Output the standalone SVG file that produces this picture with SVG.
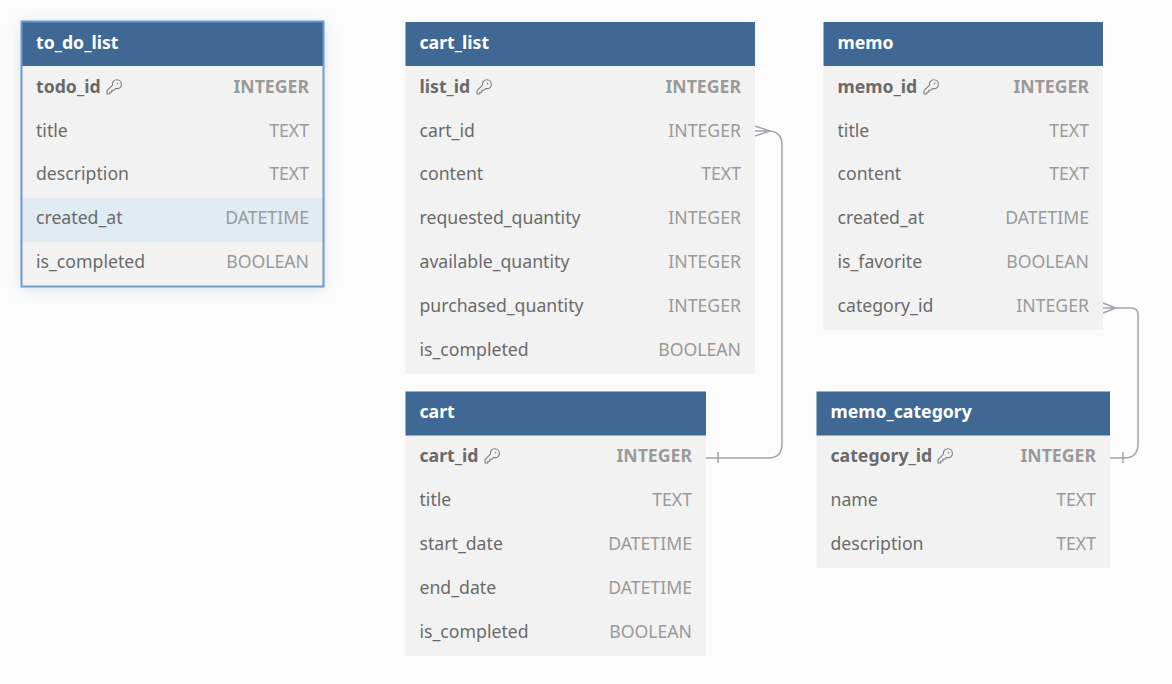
<svg xmlns="http://www.w3.org/2000/svg" width="1172" height="684" viewBox="0 0 1172 684">
<style>
text{font-family:"Noto Sans","Open Sans",sans-serif;font-size:17.66px}
.h{fill:#3f6894}
.b{fill:#f2f2f2}
.t{fill:#fff;font-weight:700}
.n{fill:#6a6a6a}
.k{fill:#6a6a6a;font-weight:700}
.y{fill:#9a9a9a;text-anchor:end}
.yk{fill:#9a9a9a;text-anchor:end;font-weight:700}
.c{fill:none;stroke:#a3a3ad;stroke-width:1.5}
.i{fill:none;stroke:#7d7d7d;stroke-width:1.1;stroke-linejoin:round}
</style>
<defs>
<filter id="s" x="-20%" y="-20%" width="140%" height="140%"><feDropShadow dx="0" dy="2" stdDeviation="7" flood-color="#6f95cc" flood-opacity="0.3"/></filter>
<g id="key"><path class="i" d="M1 15V11.6L6.6 6.2C5.8 3.2 8 .8 10.8 .8C13.6 .8 15.4 3 15.4 5.4C15.4 8.2 12.8 10.4 9.8 9.4L8 11.2H5.8V13.2H3.8V15Z"/><circle cx="11.6" cy="4.6" r="0.8" fill="#7d7d7d"/></g>
</defs>
<rect width="1172" height="684" fill="#fcfcfc"/>
<g id="connectors">
<path class="c" d="M755 131H768Q782 131 782 145V444Q782 458 768 458H706M755 126L770 131L755 136M718 452V463"/>
<path class="c" d="M1103 308H1131Q1138 308 1138 315V444Q1138 458 1124 458H1110M1103 303L1116 308L1103 313M1123 452V463"/>
</g>
<g id="to_do_list">
<rect x="21.5" y="21.5" width="302" height="265" class="b" filter="url(#s)"/>
<rect x="22" y="198" width="301" height="44" fill="#e1ebf2"/>
<rect x="22" y="22" width="301" height="44" class="h"/>
<rect x="21.5" y="21.5" width="302" height="265" fill="none" stroke="#6c9acb" stroke-width="2"/>
<text x="36" y="49" class="t">to_do_list</text>
<text x="36" y="93" class="k">todo_id</text><use href="#key" x="106" y="79"/><text x="309" y="93" class="yk">INTEGER</text>
<text x="36" y="137" class="n">title</text><text x="309" y="137" class="y">TEXT</text>
<text x="36" y="180" class="n">description</text><text x="309" y="180" class="y">TEXT</text>
<text x="36" y="224" class="n">created_at</text><text x="309" y="224" class="y">DATETIME</text>
<text x="36" y="268" class="n">is_completed</text><text x="309" y="268" class="y">BOOLEAN</text>
</g>
<g id="cart_list">
<rect x="405.5" y="22" width="349.5" height="352" class="b"/>
<rect x="405.5" y="22" width="349.5" height="44" class="h"/>
<text x="419.5" y="49" class="t">cart_list</text>
<text x="419.5" y="93" class="k">list_id</text><use href="#key" x="476" y="79"/><text x="741" y="93" class="yk">INTEGER</text>
<text x="419.5" y="137" class="n">cart_id</text><text x="741" y="137" class="y">INTEGER</text>
<text x="419.5" y="180" class="n">content</text><text x="741" y="180" class="y">TEXT</text>
<text x="419.5" y="224" class="n">requested_quantity</text><text x="741" y="224" class="y">INTEGER</text>
<text x="419.5" y="268" class="n">available_quantity</text><text x="741" y="268" class="y">INTEGER</text>
<text x="419.5" y="312" class="n">purchased_quantity</text><text x="741" y="312" class="y">INTEGER</text>
<text x="419.5" y="356" class="n">is_completed</text><text x="741" y="356" class="y">BOOLEAN</text>
</g>
<g id="memo">
<rect x="823.5" y="22" width="279.5" height="308" class="b"/>
<rect x="823.5" y="22" width="279.5" height="44" class="h"/>
<text x="837.5" y="49" class="t">memo</text>
<text x="837.5" y="93" class="k">memo_id</text><use href="#key" x="923" y="79"/><text x="1089" y="93" class="yk">INTEGER</text>
<text x="837.5" y="137" class="n">title</text><text x="1089" y="137" class="y">TEXT</text>
<text x="837.5" y="180" class="n">content</text><text x="1089" y="180" class="y">TEXT</text>
<text x="837.5" y="224" class="n">created_at</text><text x="1089" y="224" class="y">DATETIME</text>
<text x="837.5" y="268" class="n">is_favorite</text><text x="1089" y="268" class="y">BOOLEAN</text>
<text x="837.5" y="312" class="n">category_id</text><text x="1089" y="312" class="y">INTEGER</text>
</g>
<g id="cart">
<rect x="405.5" y="391.5" width="300.5" height="264.5" class="b"/>
<rect x="405.5" y="391.5" width="300.5" height="44" class="h"/>
<text x="419.5" y="418" class="t">cart</text>
<text x="419.5" y="462" class="k">cart_id</text><use href="#key" x="484" y="448"/><text x="692" y="462" class="yk">INTEGER</text>
<text x="419.5" y="506" class="n">title</text><text x="692" y="506" class="y">TEXT</text>
<text x="419.5" y="550" class="n">start_date</text><text x="692" y="550" class="y">DATETIME</text>
<text x="419.5" y="594" class="n">end_date</text><text x="692" y="594" class="y">DATETIME</text>
<text x="419.5" y="638" class="n">is_completed</text><text x="692" y="638" class="y">BOOLEAN</text>
</g>
<g id="memo_category">
<rect x="816.5" y="391.5" width="293.5" height="176.5" class="b"/>
<rect x="816.5" y="391.5" width="293.5" height="44" class="h"/>
<text x="830.5" y="418" class="t">memo_category</text>
<text x="830.5" y="462" class="k">category_id</text><use href="#key" x="937" y="448"/><text x="1096" y="462" class="yk">INTEGER</text>
<text x="830.5" y="506" class="n">name</text><text x="1096" y="506" class="y">TEXT</text>
<text x="830.5" y="550" class="n">description</text><text x="1096" y="550" class="y">TEXT</text>
</g>
</svg>
